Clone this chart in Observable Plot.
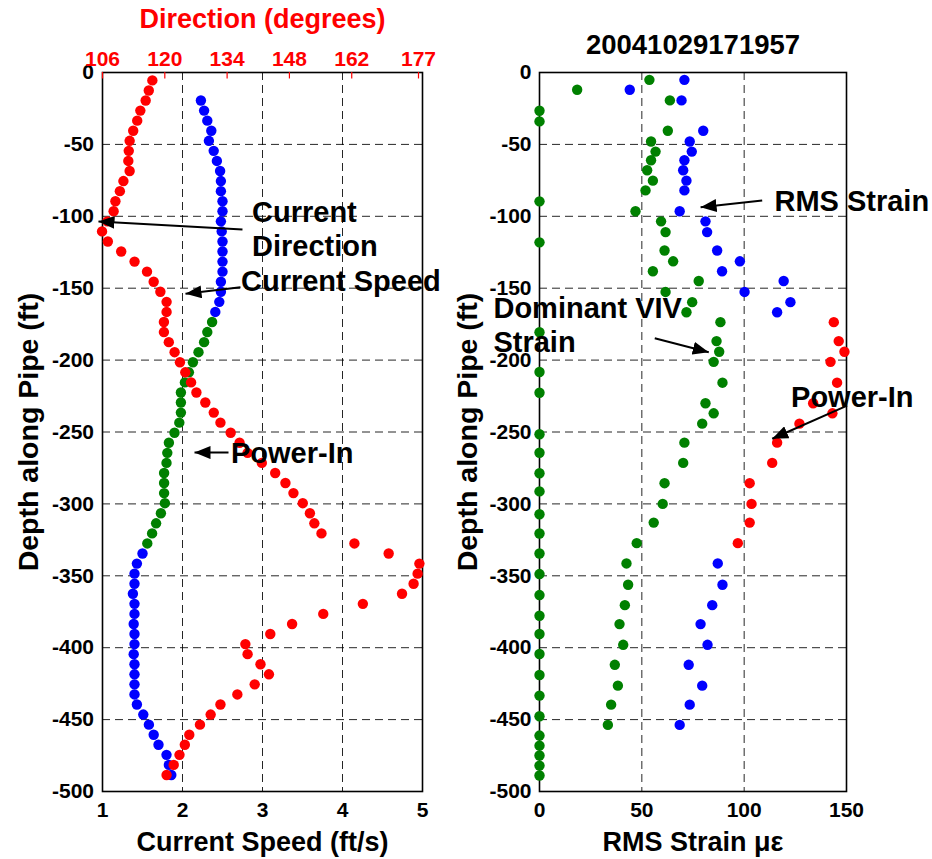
<!DOCTYPE html>
<html>
<head>
<meta charset="utf-8">
<script src="https://cdn.jsdelivr.net/npm/d3@7"></script>
<script src="https://cdn.jsdelivr.net/npm/@observablehq/plot@0.6"></script>
<style>
  body { margin: 0; background: #fff; }
  #chart { position: relative; width: 932px; height: 859px; overflow: hidden; background: #fff; }
</style>
</head>
<body>
<div id="chart"></div>
<script>
// ---- Current profile (left panel): depth along pipe, ft ----
const depthLeft = [
  -5.5, -12.5, -19.5, -26.5, -33.5, -40.5, -47.5, -54.5, -61.5, -68.5,
  -75.5, -82.5, -89.5, -96.5, -103.5, -110.5, -117.5, -124.5, -131.5, -138.5,
  -145.5, -152.5, -159.5, -166.5, -173.5, -180.5, -187.5, -194.5, -201.5, -208.5,
  -215.5, -222.5, -229.5, -236.5, -243.5, -250.5, -257.5, -264.5, -271.5, -278.5,
  -285.5, -292.5, -299.5, -306.5, -313.5, -320.5, -327.5, -334.5, -341.5, -348.5,
  -355.5, -362.5, -369.5, -376.5, -383.5, -390.5, -397.5, -404.5, -411.5, -418.5,
  -425.5, -432.5, -439.5, -446.5, -453.5, -460.5, -467.5, -474.5, -481.5, -488.5
];
// current speed, ft/s (no reading at the two shallowest depths)
const speed = [
  null, null, 2.23, 2.27, 2.31, 2.36, 2.33, 2.39, 2.43, 2.47,
  2.48, 2.48, 2.50, 2.50, 2.48, 2.49, 2.50, 2.50, 2.50, 2.50,
  2.48, 2.48, 2.46, 2.41, 2.37, 2.31, 2.27, 2.20, 2.13, 2.08,
  2.03, 1.98, 1.98, 1.98, 1.96, 1.90, 1.83, 1.81, 1.80, 1.77,
  1.77, 1.77, 1.78, 1.73, 1.67, 1.62, 1.56, 1.50, 1.43, 1.40,
  1.40, 1.38, 1.40, 1.40, 1.39, 1.40, 1.40, 1.39, 1.40, 1.40,
  1.40, 1.40, 1.43, 1.51, 1.58, 1.64, 1.70, 1.80, 1.83, 1.86
];
// current direction, degrees
const direction = [
  117.2, 116.4, 115.7, 114.5, 113.8, 112.9, 112.1, 111.9, 111.8, 112.1,
  110.7, 109.9, 108.9, 108.5, 107.1, 105.9, 107.2, 110.2, 113.2, 116.0,
  117.5, 119.0, 120.4, 120.4, 119.8, 119.8, 120.9, 122.2, 123.4, 124.6,
  125.9, 127.1, 129.1, 131.0, 132.5, 134.8, 136.8, 138.6, 141.8, 144.8,
  147.1, 148.9, 151.0, 152.6, 153.6, 155.2, 162.6, 170.3, 177.2, 176.8,
  175.9, 173.3, 164.5, 155.6, 148.6, 143.7, 138.1, 138.6, 141.5, 143.4,
  140.2, 136.3, 132.5, 130.3, 127.9, 125.5, 124.5, 123.3, 122.0, 120.4
];
// depth band of the power-in zone, ft
const powerIn = [-170, -330];

// ---- Strain (right panel) ----
const vivDepth = [
  -5.1, -12.0, -19.4, -26.6, -34.0, -40.5, -48.0, -55.0, -61.0, -68.0,
  -75.2, -82.0, -89.6, -96.5, -103.5, -111.0, -118.1, -123.8, -131.3, -138.2,
  -145.0, -152.6, -159.7, -166.7, -173.6, -180.6, -186.8, -194.2, -201.2, -208.3,
  -215.7, -222.7, -230.0, -237.0, -244.2, -251.6, -257.4, -264.4, -271.5, -278.7,
  -285.6, -291.3, -300.0, -307.2, -313.0, -320.6, -327.3, -334.5, -341.4, -348.8,
  -356.2, -363.4, -370.4, -377.8, -383.6, -390.5, -398.0, -404.4, -411.9, -419.0,
  -426.4, -433.3, -439.6, -447.7, -453.7, -461.1, -468.1, -475.0, -482.0, -488.9
];
const vivStrain = [
  53.7, 18.4, 63.7, 0, 0, 62.7, 54.5, 56.7, 54.5, 52.6,
  55.4, 51.8, 0, 46.9, 59.4, 61.6, 0, 61.1, 65.3, 55.4,
  77.8, 61.6, 74.6, 71.8, 88.4, 0, 86.5, 87.8, 85.1, 0,
  89.4, 0, 81.1, 85.1, 79.5, 0, 70.8, 0, 70.2, 0,
  61.1, 0, 60.2, 0, 55.8, 0, 47.5, 0, 42.5, 0,
  43.3, 0, 41.7, 0, 39.1, 0, 40.9, 0, 36.8, 0,
  38.3, 0, 35.0, 0, 33.4, 0, 0, 0, 0, 0
];
const rmsDepth = [
  -5.1, -12.0, -19.4, -40.5, -48.0, -55.0, -61.0, -68.0, -75.2, -82.0,
  -96.5, -103.5, -111.0, -123.8, -131.3, -138.2, -145.0, -152.6, -159.7, -166.7,
  -173.6, -186.8, -194.2, -201.2, -215.7, -230.0, -237.0, -244.2, -257.4, -271.5,
  -285.6, -300.0, -313.0, -327.3, -341.4, -356.2, -370.4, -383.6, -398.0, -411.9,
  -426.4, -439.6, -453.7
];
const rmsStrain = [
  70.8, 44.1, 69.4, 80.0, 73.4, 74.4, 70.8, 70.2, 71.8, 70.8,
  68.5, 81.1, 81.9, 86.8, 97.9, 89.2, 119.3, 100.2, 122.6, 116.1,
  143.8, 146.2, 149.0, 142.2, 145.4, 133.7, 143.1, 127.0, 116.1, 113.7,
  102.7, 103.6, 102.7, 96.9, 87.1, 89.4, 84.4, 78.7, 82.1, 72.9,
  79.5, 73.4, 68.5
];

// ---- Ticks ----
const depthTicks = [0, -50, -100, -150, -200, -250, -300, -350, -400, -450, -500];
const depthGrid = [-50, -100, -150, -200, -250, -300, -350, -400, -450];
const speedTicks = [1, 2, 3, 4, 5];
const speedGrid = [2, 3, 4];
const directionTicks = [106, 120, 134, 148, 162, 177];
const strainTicks = [0, 50, 100, 150];
const strainGrid = [50, 100];
const stationTitle = "20041029171957";

// ---- Layout and styles ----
const W = 466, H = 859;
const leftMargins = {marginLeft: 102, marginRight: 44, marginTop: 72, marginBottom: 68};
const rightMargins = {marginLeft: 73, marginRight: 86, marginTop: 72, marginBottom: 68};
const baseStyle = {
  background: "transparent",
  overflow: "visible",
  fontFamily: "'Liberation Sans', Arial, Helvetica, sans-serif",
  fontSize: "21px",
  fontWeight: "bold",
  color: "black"
};
const gridOpts = {stroke: "black", strokeOpacity: 0.85, strokeWidth: 1, strokeDasharray: "8,5"};
const RED = "#ff0000", BLUE = "#0000ff", GREEN = "#008000";
const DOT_R = 5.2;
const inPower = d => d <= powerIn[0] && d >= powerIn[1];

// filled triangular arrowhead
function filledHead(color, context) {
  const doc = (context && context.document) || document;
  const ns = "http://www.w3.org/2000/svg";
  const m = doc.createElementNS(ns, "marker");
  m.setAttribute("viewBox", "-16 -6.5 16 13");
  m.setAttribute("markerWidth", "16");
  m.setAttribute("markerHeight", "13");
  m.setAttribute("markerUnits", "userSpaceOnUse");
  m.setAttribute("orient", "auto");
  m.setAttribute("refX", "0");
  m.setAttribute("refY", "0");
  const p = doc.createElementNS(ns, "path");
  p.setAttribute("d", "M-16,-6.5L0,0L-16,6.5Z");
  p.setAttribute("fill", color);
  p.setAttribute("stroke", "none");
  m.appendChild(p);
  return m;
}
let headMarker = filledHead;
try { Plot.link([0], {x1: 0, x2: 1, y1: 0, y2: 1, markerEnd: filledHead}); }
catch (e) { headMarker = "arrow"; }

const arrows = (rows) => Plot.link(rows, {
  x1: "x1", y1: "y1", x2: "x2", y2: "y2",
  stroke: "black", strokeWidth: 2, markerEnd: headMarker
});
const notes = (rows) => Plot.text(rows, {
  x: "x", y: "y", text: "t", textAnchor: "start", lineAnchor: "middle",
  lineHeight: 1.18, fontSize: 29, fontWeight: "bold", fill: "black"
});
const label = (t, opts) => Plot.text([t], {
  text: d => d, fontSize: 27, fontWeight: "bold",
  textAnchor: "middle", lineAnchor: "middle", ...opts
});

// ---- Left panel: current speed ----
const leftRows = depthLeft.map((d, i) => ({depth: d, speed: speed[i], direction: direction[i]}));
const speedRows = leftRows.filter(r => r.speed != null);

const speedPlot = Plot.plot({
  width: W, height: H, ...leftMargins,
  style: baseStyle,
  x: {domain: [1, 5], label: null},
  y: {domain: [-500, 0], label: null},
  marks: [
    Plot.gridX(speedGrid, gridOpts),
    Plot.gridY(depthGrid, gridOpts),
    Plot.frame({stroke: "black", strokeWidth: 1.6}),
    Plot.axisY(depthTicks, {tickSize: 0, tickPadding: 8.5, tickFormat: d => String(d)}),
    Plot.axisX(speedTicks, {tickSize: 0, tickPadding: 11, tickFormat: d => String(d)}),
    Plot.dot(speedRows.filter(r => !inPower(r.depth)), {x: "speed", y: "depth", r: DOT_R, fill: BLUE}),
    Plot.dot(speedRows.filter(r => inPower(r.depth)), {x: "speed", y: "depth", r: DOT_R, fill: GREEN}),
    label("Depth along Pipe (ft)", {frameAnchor: "left", rotate: -90, dx: -74, fontSize: 28.5}),
    label("Current Speed (ft/s)", {frameAnchor: "bottom", dy: 51})
  ]
});

// ---- Left panel: current direction on the top axis ----
const directionPlot = Plot.plot({
  width: W, height: H, ...leftMargins,
  style: baseStyle,
  x: {domain: [106, 177.9], label: null},
  y: {domain: [-500, 0], label: null, axis: null},
  marks: [
    Plot.axisX(directionTicks, {anchor: "top", tickSize: 0, tickPadding: 7, color: RED, tickFormat: d => String(d)}),
    Plot.ruleX(directionTicks, {x: d => d, y1: 0, y2: -4.5, stroke: RED, strokeWidth: 1.2}),
    Plot.dot(leftRows, {x: "direction", y: "depth", r: DOT_R, fill: RED}),
    label("Direction (degrees)", {frameAnchor: "top", dy: -53, fill: RED})
  ]
});

// ---- Left panel: annotations ----
const leftNotes = [
  {x: 2.869, y: -108.4, t: "Current\nDirection"},
  {x: 2.731, y: -144.4, t: "Current Speed"},
  {x: 2.606, y: -263.6, t: "Power-In"}
];
const leftArrows = [
  {x1: 2.75, y1: -109.2, x2: 0.95, y2: -103.6},
  {x1: 2.725, y1: -149.3, x2: 2.0375, y2: -153.9},
  {x1: 2.575, y1: -264.3, x2: 2.15, y2: -264.3}
];
const notePlot = Plot.plot({
  width: W, height: H, ...leftMargins,
  style: baseStyle,
  x: {domain: [1, 5], axis: null},
  y: {domain: [-500, 0], axis: null},
  marks: [arrows(leftArrows), notes(leftNotes)]
});

// ---- Right panel: strain ----
const vivRows = vivDepth.map((d, i) => ({depth: d, strain: vivStrain[i]}));
const rmsRows = rmsDepth.map((d, i) => ({depth: d, strain: rmsStrain[i]}));
const rightNotes = [
  {x: 114.8, y: -89.0, t: "RMS Strain"},
  {x: -22.5, y: -175.0, t: "Dominant VIV\nStrain"},
  {x: 122.9, y: -225.3, t: "Power-In"}
];
const rightArrows = [
  {x1: 108.8, y1: -89.0, x2: 78.7, y2: -93.7},
  {x1: 56.3, y1: -184.8, x2: 82.7, y2: -194.5},
  {x1: 150.3, y1: -231.6, x2: 113.7, y2: -254.7}
];

const strainPlot = Plot.plot({
  width: W, height: H, ...rightMargins,
  style: baseStyle,
  x: {domain: [0, 150], label: null},
  y: {domain: [-500, 0], label: null},
  marks: [
    Plot.gridX(strainGrid, gridOpts),
    Plot.gridY(depthGrid, gridOpts),
    Plot.frame({stroke: "black", strokeWidth: 1.6}),
    Plot.axisY(depthTicks, {tickSize: 0, tickPadding: 8, tickFormat: d => String(d)}),
    Plot.axisX(strainTicks, {tickSize: 0, tickPadding: 11, tickFormat: d => String(d)}),
    Plot.dot(vivRows, {x: "strain", y: "depth", r: DOT_R, fill: GREEN}),
    Plot.dot(rmsRows.filter(r => !inPower(r.depth)), {x: "strain", y: "depth", r: DOT_R, fill: BLUE}),
    Plot.dot(rmsRows.filter(r => inPower(r.depth)), {x: "strain", y: "depth", r: DOT_R, fill: RED}),
    label(stationTitle, {frameAnchor: "top", dy: -27.5, fontSize: 27.5}),
    label("Depth along Pipe (ft)", {frameAnchor: "left", rotate: -90, dx: -72, fontSize: 28.5}),
    label("RMS Strain \u03bc\u03b5", {frameAnchor: "bottom", dy: 51}),
    arrows(rightArrows),
    notes(rightNotes)
  ]
});

const chart = document.getElementById("chart");
[[speedPlot, 0], [directionPlot, 0], [notePlot, 0], [strainPlot, 466]].forEach(([svg, left]) => {
  svg.style.position = "absolute";
  svg.style.left = left + "px";
  svg.style.top = "0px";
  chart.appendChild(svg);
});
</script>
</body>
</html>
